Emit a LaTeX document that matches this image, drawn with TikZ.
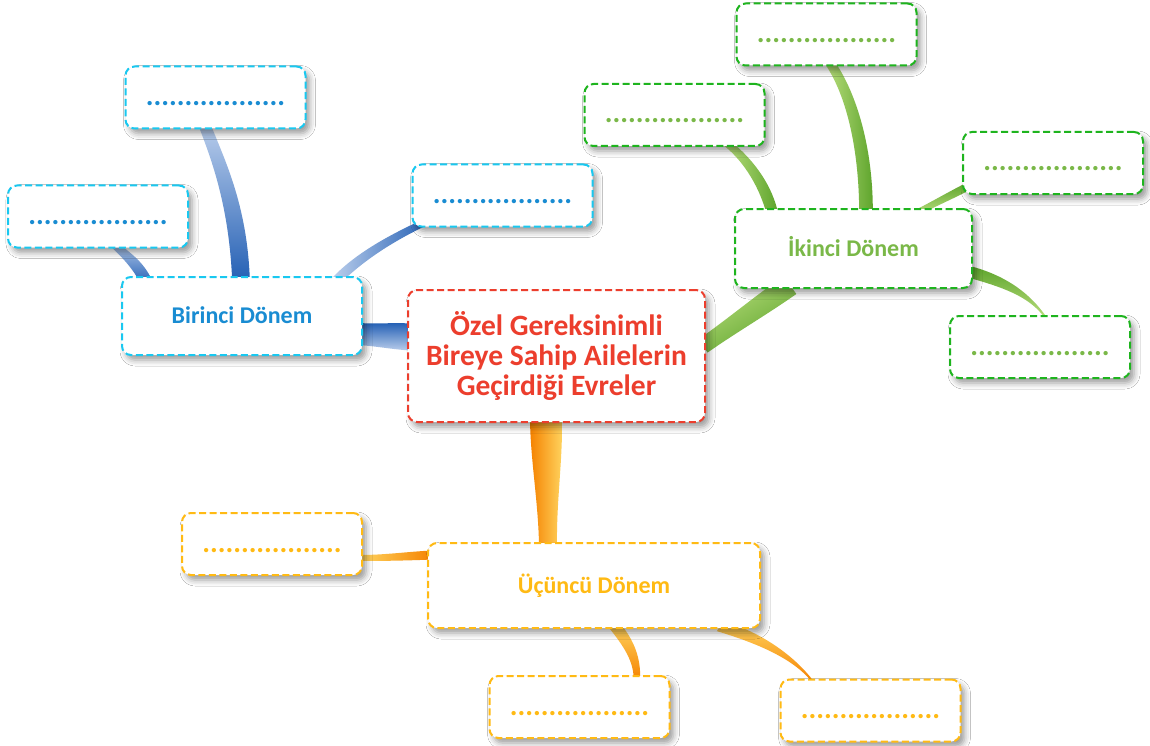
\documentclass[tikz,border=0pt]{standalone}
\usepackage{fontspec}
\setmainfont{Carlito}
\usetikzlibrary{calc,shadows.blur}
\pgfdeclarelayer{bg}\pgfsetlayers{bg,main}
\definecolor{redc}{RGB}{236,62,45}
\definecolor{cyanb}{RGB}{25,200,240}
\definecolor{bluet}{RGB}{25,140,210}
\definecolor{greenb}{RGB}{30,180,30}
\definecolor{greent}{RGB}{122,184,72}
\definecolor{orc}{RGB}{255,186,20}
\definecolor{bD}{RGB}{35,95,180}
\definecolor{bL}{RGB}{185,205,235}
\definecolor{gD}{RGB}{95,165,45}
\definecolor{gL}{RGB}{185,222,125}
\definecolor{oD}{RGB}{245,130,0}
\definecolor{oL}{RGB}{255,212,95}
\newcommand\branch[7]{%
\path[#7] let \p1=(#1), \p2=(#4), \n1={atan2(\y2-\y1,\x2-\x1)+90} in
 ($(#1)+(\n1:#5pt)$) .. controls ($(#2)+(\n1:#5pt)$) and ($(#3)+(\n1:#6pt)$) .. ($(#4)+(\n1:#6pt)$)
 -- ($(#4)+(\n1:-#6pt)$) .. controls ($(#3)+(\n1:-#6pt)$) and ($(#2)+(\n1:-#5pt)$) .. ($(#1)+(\n1:-#5pt)$) -- cycle;}
\newcommand\dotrow{..................}
\begin{document}
\begin{tikzpicture}[x=1pt,y=-1pt,
  box/.style={rounded corners=9pt, line width=2pt, dash pattern=on 7pt off 3.5pt,
    fill=white, inner sep=0pt, align=center,
    blur shadow={shadow xshift=4pt, shadow yshift=-5pt, shadow blur radius=6pt, shadow opacity=40},
    font=\bfseries\fontsize{24}{28}\selectfont, text height=15.5pt, text depth=0pt},
  mainbox/.style={box, draw=redc, text=redc, minimum width=297pt, minimum height=132pt,
    font=\bfseries\fontsize{29.5}{30}\selectfont, text height=, text depth=},
  namebox/.style={box, draw=#1},
  dotbox/.style={box, draw=#1, minimum width=180pt, minimum height=62pt,
    font=\bfseries\fontsize{29}{30}\selectfont, text height=16pt, text depth=0pt}
]
\useasboundingbox (0,0) rectangle (1150,746);
% boxes
\node[mainbox] (c) at (556.5,356) {Özel Gereksinimli\\Bireye Sahip Ailelerin\\Geçirdiği Evreler};
\node[namebox=cyanb, text=bluet, minimum width=240pt, minimum height=78pt] (b) at (242,316) {Birinci Dönem};
\node[dotbox=cyanb, text=bluet] (b1) at (215.5,97.5) {\dotrow};
\node[dotbox=cyanb, text=bluet] (b2) at (98,216.5) {\dotrow};
\node[dotbox=cyanb, text=bluet] (b3) at (502.5,195.5) {\dotrow};
\node[namebox=greenb, text=greent, minimum width=237pt, minimum height=79pt] (g) at (853.5,248.5) {İkinci Dönem};
\node[dotbox=greenb, text=greent] (g1) at (826.5,34.5) {\dotrow};
\node[dotbox=greenb, text=greent] (g2) at (674.5,115) {\dotrow};
\node[dotbox=greenb, text=greent] (g3) at (1053,163) {\dotrow};
\node[dotbox=greenb, text=greent] (g4) at (1040,347) {\dotrow};
\node[namebox=orc, text=orc, minimum width=332pt, minimum height=85pt] (o) at (594,585.5) {Üçüncü Dönem};
\node[dotbox=orc, text=orc] (o1) at (272,544) {\dotrow};
\node[dotbox=orc, text=orc] (o2) at (579.5,707) {\dotrow};
\node[dotbox=orc, text=orc] (o3) at (870.5,710.5) {\dotrow};
% branches
\begin{pgfonlayer}{bg}
\fill[white] (0,0) rectangle (1150,746);
\coordinate (cb1) at (411,337); \coordinate (cb2) at (358,334);
\branch{cb1}{$(cb1)!0.33!(cb2)$}{$(cb1)!0.66!(cb2)$}{cb2}{13.5}{11}{top color=bD, bottom color=bL, shading angle=0}
\coordinate (bt1) at (241,280); \coordinate (bt2) at (205,126);
\branch{bt1}{238,205}{218,160}{bt2}{9}{6}{top color=bL, bottom color=bD, shading angle=0}
\coordinate (bl1) at (146,281); \coordinate (bl2) at (114,244);
\branch{bl1}{136,262}{124,254}{bl2}{6}{4}{top color=bL, bottom color=bD, shading angle=0}
\coordinate (br1) at (336,281); \coordinate (br2) at (428,221);
\branch{br1}{360,256}{395,236}{br2}{5}{3.5}{top color=bL, bottom color=bD, shading angle=90}
\coordinate (cg1) at (703,346); \coordinate (cg2) at (790,285);
\branch{cg1}{$(cg1)!0.33!(cg2)$}{$(cg1)!0.66!(cg2)$}{cg2}{8}{11}{top color=gL, bottom color=gD, shading angle=30}
\coordinate (gt1) at (866,212); \coordinate (gt2) at (830,63);
\branch{gt1}{866,150}{852,95}{gt2}{7}{5}{top color=gL, bottom color=gD, shading angle=90}
\coordinate (gl1) at (772,212); \coordinate (gl2) at (728,144);
\branch{gl1}{765,185}{748,160}{gl2}{6}{4}{top color=gL, bottom color=gD, shading angle=90}
\coordinate (gr1) at (918,212); \coordinate (gr2) at (967,187);
\branch{gr1}{$(gr1)!0.33!(gr2)$}{$(gr1)!0.66!(gr2)$}{gr2}{3}{4}{top color=gD, bottom color=gL, shading angle=0}
\coordinate (gb1) at (970,272); \coordinate (gb2) at (1046,318);
\branch{gb1}{1005,282}{1030,295}{gb2}{6}{1}{top color=gD, bottom color=gL, shading angle=0}
\coordinate (co1) at (546,420); \coordinate (co2) at (548,545);
\branch{co1}{$(co1)!0.33!(co2)$}{$(co1)!0.66!(co2)$}{co2}{16}{9}{top color=oD, bottom color=oL, shading angle=90}
\coordinate (ol1) at (360,558); \coordinate (ol2) at (432,555);
\branch{ol1}{385,558}{410,556}{ol2}{3}{4.5}{top color=oL, bottom color=oD, shading angle=90}
\coordinate (ob1) at (615,626); \coordinate (ob2) at (637,679);
\branch{ob1}{630,645}{637,660}{ob2}{6}{3.5}{top color=oL, bottom color=oD, shading angle=0}
\coordinate (orr1) at (720,626); \coordinate (orr2) at (813,682);
\branch{orr1}{760,638}{795,658}{orr2}{6}{1}{top color=oL, bottom color=oD, shading angle=0}
\end{pgfonlayer}
\end{tikzpicture}
\end{document}
